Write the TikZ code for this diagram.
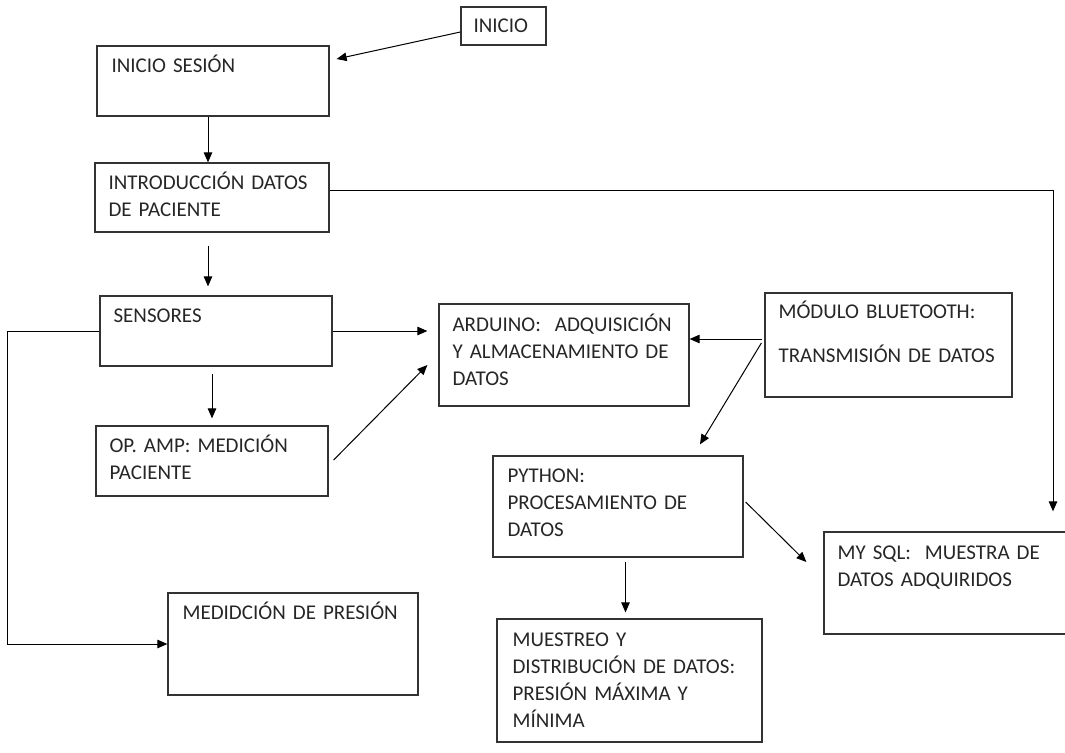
\documentclass[tikz,border=0pt]{standalone}
\usepackage{fontspec}
\setmainfont{Carlito}
\usetikzlibrary{arrows.meta}

\tikzset{
  caja/.style = {draw = black!80, line width = 1.25pt, inner sep = 0pt},
  texto/.style = {anchor = base west, inner sep = 0pt, text width = 260pt, align = left,
    text = black!85, font = \fontsize{21}{27}\selectfont},
  flecha/.style = {line width = 1pt, -{Triangle[length = 10pt, width = 8.5pt]}}
}

\begin{document}
\begin{tikzpicture}[x = 1pt, y = -1pt]
\useasboundingbox (0, 0) rectangle (1065, 752);
\clip (0, 0) rectangle (1065, 752);
% Cajas
\node[caja, minimum width = 85pt, minimum height = 38pt] (inicio) at (503.5, 26) {};
\node[caja, minimum width = 232pt, minimum height = 70pt] (sesion) at (213, 81) {};
\node[caja, minimum width = 234pt, minimum height = 69pt] (datos) at (212, 197.5) {};
\node[caja, minimum width = 232pt, minimum height = 70pt] (sensores) at (216, 331) {};
\node[caja, minimum width = 232pt, minimum height = 70pt] (opamp) at (212, 461) {};
\node[caja, minimum width = 250pt, minimum height = 102pt] (presion) at (293, 644) {};
\node[caja, minimum width = 250pt, minimum height = 102pt] (arduino) at (564, 355) {};
\node[caja, minimum width = 247pt, minimum height = 104pt] (bluetooth) at (888.5, 345) {};
\node[caja, minimum width = 250pt, minimum height = 101pt] (python) at (618, 506.5) {};
\node[caja, minimum width = 256pt, minimum height = 102pt] (mysql) at (952, 583) {};
\node[caja, minimum width = 265pt, minimum height = 123pt] (muestreo) at (629.5, 680.5) {};
% Textos
\node[texto] (inicio-t) at ([shift = {(13, 26)}]inicio.north west) {INICIO};
\node[texto] (sesion-t) at ([shift = {(15, 27)}]sesion.north west) {INICIO SESIÓN};
\node[texto] (datos-t) at ([shift = {(14, 27)}]datos.north west) {INTRODUCCIÓN DATOS\\DE PACIENTE};
\node[texto] (sensores-t) at ([shift = {(14, 27)}]sensores.north west) {SENSORES};
\node[texto] (opamp-t) at ([shift = {(14, 27)}]opamp.north west) {OP. AMP: MEDICIÓN\\PACIENTE};
\node[texto] (presion-t) at ([shift = {(15, 27)}]presion.north west) {MEDIDCIÓN DE PRESIÓN};
\node[texto] (arduino-t) at ([shift = {(14, 28)}]arduino.north west) {ARDUINO:\ \ ADQUISICIÓN\\Y ALMACENAMIENTO DE\\DATOS};
\node[texto] (bluetooth-t) at ([shift = {(14, 26)}]bluetooth.north west) {MÓDULO BLUETOOTH:\\[17pt]TRANSMISIÓN DE DATOS};
\node[texto] (python-t) at ([shift = {(15, 27)}]python.north west) {PYTHON:\\PROCESAMIENTO DE\\DATOS};
\node[texto] (mysql-t) at ([shift = {(14, 28)}]mysql.north west) {MY SQL:\ \ MUESTRA DE\\DATOS ADQUIRIDOS};
\node[texto] (muestreo-t) at ([shift = {(16, 28)}]muestreo.north west) {MUESTREO Y\\DISTRIBUCIÓN DE DATOS:\\PRESIÓN MÁXIMA Y\\MÍNIMA};
% Flechas
\draw[flecha] ([yshift = -6pt]inicio.west) -- ([xshift = 7pt, yshift = 22pt]sesion.east);
\draw[flecha] ([xshift = -5pt]sesion.south) -- ([xshift = -4pt]datos.north);
\draw[flecha] ([yshift = 7.5pt]datos.east) -| ([xshift = 101pt, yshift = 20pt]mysql.north);
\draw[flecha] ([xshift = -4pt, yshift = -13pt]datos.south) -- ([xshift = -8pt, yshift = 9pt]sensores.north);
\draw[flecha] (sensores.east) -- ([xshift = -11pt, yshift = 24pt]arduino.west);
\draw[flecha] ([xshift = -4pt, yshift = -7pt]sensores.south) -- ([yshift = 7pt]opamp.north);
\draw[flecha] (sensores.west) -- ++(-92, 0) |- (presion.west);
\draw[flecha] ([xshift = 5pt, yshift = 1pt]opamp.east) -- ([xshift = -11pt, yshift = -10pt]arduino.west);
\draw[flecha] ([xshift = -2pt, yshift = 6pt]bluetooth.west) -- ([yshift = 16pt]arduino.east);
\draw[flecha] ([xshift = -3pt, yshift = 2pt]bluetooth.west) -- ([xshift = 82pt, yshift = 11pt]python.north);
\draw[flecha] ([xshift = 2pt, yshift = 4.5pt]python.east) -- ([xshift = -17pt, yshift = 21pt]mysql.west);
\draw[flecha] ([xshift = 7.5pt, yshift = -4pt]python.south) -- ([xshift = -4pt, yshift = 6pt]muestreo.north);
\end{tikzpicture}
\end{document}
